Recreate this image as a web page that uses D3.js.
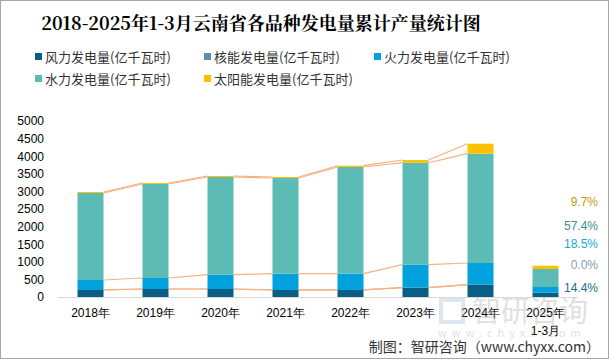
<!DOCTYPE html>
<html><head><meta charset="utf-8">
<script src="https://cdn.jsdelivr.net/npm/d3@7"></script>
<style>
html,body{margin:0;padding:0;background:#fff;}
svg{display:block;font-family:"Noto Sans CJK SC","Microsoft YaHei",sans-serif;}
</style></head>
<body>
<script>
const categories = ["2018年","2019年","2020年","2021年","2022年","2023年","2024年","2025年\n1-3月"];
const seriesNames = ["风力发电量(亿千瓦时)","核能发电量(亿千瓦时)","火力发电量(亿千瓦时)","水力发电量(亿千瓦时)","太阳能发电量(亿千瓦时)"];
const wind    = [200, 227, 227, 200, 200, 264, 350, 122];
const nuclear = [0, 0, 0, 0, 0, 0, 0, 0];
const fire    = [283, 313, 407, 462, 462, 654, 616, 162];
const water   = [2472, 2670, 2775, 2718, 3031, 2897, 3105, 511];
const solar   = [28, 28, 29, 29, 37, 77, 284, 94];
const colors  = ["#0B5E83","#5F8FA8","#00A1DC","#5CBBB5","#FFC000"];
const growthLabels = ["14.4%","0.0%","18.5%","57.4%","9.7%"];
const growthColors = ["#1F6E8C","#7F9FB5","#1AA8DC","#3E8E8A","#C49A00"];
const yTicks = [0,500,1000,1500,2000,2500,3000,3500,4000,4500,5000];

const W=609,H=359;
const svg=d3.select("body").append("svg").attr("width",W).attr("height",H);
svg.append("rect").attr("x",0.5).attr("y",0.5).attr("width",W-1).attr("height",H-1).attr("fill","#fff").attr("stroke","#a6a6a6");

svg.append("text").attr("x",261).attr("y",30).attr("text-anchor","middle")
  .attr("font-size",18).attr("font-weight","bold").attr("fill","#000")
  .attr("font-family","'Noto Serif CJK SC','Noto Sans CJK SC',serif")
  .text("2018-2025年1-3月云南省各品种发电量累计产量统计图");

// legend
const legPos=[[35,57],[204,57],[374,57],[35,79],[204,79]];
seriesNames.forEach((n,i)=>{
  const g=svg.append("g").attr("transform",`translate(${legPos[i][0]},${legPos[i][1]})`);
  g.append("rect").attr("x",0).attr("y",-4).attr("width",7).attr("height",7).attr("fill",colors[i]);
  g.append("text").attr("x",10).attr("y",4.5).attr("font-size",13).attr("fill","#333").text(n);
});

const x=d3.scaleBand().domain(categories).range([58,578]).paddingInner(0.6).paddingOuter(0.3);
const y=d3.scaleLinear().domain([0,5000]).range([297,121]);

const data=categories.map((c,i)=>({cat:c,v:[wind[i],nuclear[i],fire[i],water[i],solar[i]]}));
const stack=d3.stack().keys([0,1,2,3,4]).value((d,k)=>d.v[k]);
const layers=stack(data);

// series lines
const lineColor="#F4B183";
layers.forEach(L=>{
  for(let i=0;i<6;i++){
    svg.append("line")
      .attr("x1",x(categories[i])+x.bandwidth()).attr("y1",y(L[i][1]))
      .attr("x2",x(categories[i+1])).attr("y2",y(L[i+1][1]))
      .attr("stroke",lineColor).attr("stroke-width",1.2);
  }
});

layers.forEach((L,k)=>{
  svg.append("g").selectAll("rect").data(L).join("rect")
    .attr("x",d=>x(d.data.cat)).attr("width",x.bandwidth())
    .attr("y",d=>y(d[1])).attr("height",d=>Math.max(0,y(d[0])-y(d[1])))
    .attr("fill",colors[k]);
});

// axes
const ya=svg.append("g").attr("transform","translate(44,0)")
  .call(d3.axisLeft(y).tickValues(yTicks).tickFormat(d3.format("d")).tickSize(0).tickPadding(0));
ya.select(".domain").remove();
ya.selectAll("text").attr("font-size",12).attr("fill","#000").attr("font-family","'Liberation Sans',Arial,sans-serif");

svg.append("line").attr("x1",58).attr("x2",578).attr("y1",297.5).attr("y2",297.5).attr("stroke","#d9d9d9");
const xa=svg.append("g").attr("transform","translate(0,297)")
  .call(d3.axisBottom(x).tickSize(0).tickPadding(0));
xa.select(".domain").remove();
xa.selectAll("text").remove();
xa.selectAll(".tick").each(function(d){
  const t=d3.select(this).append("text").attr("fill","#000").attr("font-size",12).attr("text-anchor","middle");
  d.split("\n").forEach((s,j)=>t.append("tspan").attr("x",0).attr("y",20+j*18).text(s));
});

// growth labels
const gy=[288,265,244,226,202];
growthLabels.forEach((s,i)=>{
  svg.append("text").attr("x",598).attr("y",gy[i]+4).attr("text-anchor","end")
    .attr("font-size",12).attr("fill",growthColors[i])
    .attr("font-family","'Liberation Sans',Arial,sans-serif").text(s);
});

// watermark
const wm=svg.append("g").attr("opacity",0.3);
wm.append("text").attr("x",472).attr("y",322).attr("font-size",29).attr("fill","#9a9a9a").text("智研咨询");
wm.append("text").attr("x",438).attr("y",337).attr("font-size",11).attr("fill","#9a9a9a").attr("letter-spacing","5").text("www.chyxx.com");
wm.append("rect").attr("x",441).attr("y",300).attr("width",22).attr("height",22).attr("fill","none").attr("stroke","#9ab0d0").attr("stroke-width",4);

svg.append("text").attr("x",600).attr("y",352).attr("text-anchor","end").attr("font-size",14).attr("fill","#333")
  .text("制图：智研咨询（www.chyxx.com）");
</script>
</body></html>
